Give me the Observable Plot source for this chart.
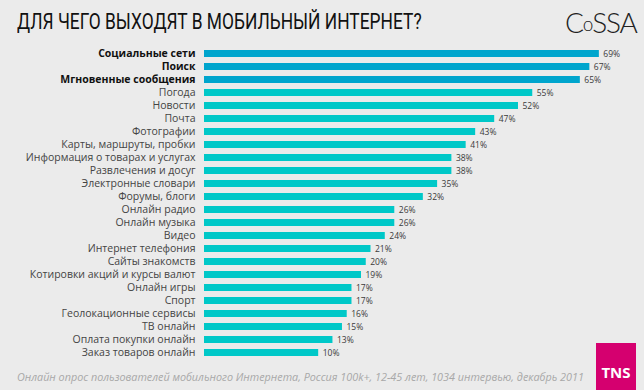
<!DOCTYPE html>
<html><head><meta charset="utf-8">
<script src="https://cdn.jsdelivr.net/npm/d3@7"></script>
<script src="https://cdn.jsdelivr.net/npm/@observablehq/plot@0.6"></script>
<style>
html,body{margin:0;padding:0;background:#ebebeb;}
#wrap{position:relative;width:644px;height:390px;overflow:hidden;background:#ebebeb;}
#chart{position:absolute;left:0;top:0;}
#title{position:absolute;left:17px;top:9px;font-family:"Roboto",sans-serif;font-size:22px;color:#111;white-space:nowrap;transform:scaleX(0.79);transform-origin:left top;}
#logo{position:absolute;left:565px;top:5px;font-family:"Lato","DejaVu Sans",sans-serif;font-weight:300;font-size:28px;color:#222;white-space:nowrap;letter-spacing:-1.2px;}
#logo small{font-size:19px;vertical-align:2px;}
#caption{position:absolute;left:17px;top:369px;font-family:"Open Sans",sans-serif;font-style:italic;font-size:10.8px;color:#a8a8a8;white-space:nowrap;}
#tns{position:absolute;left:596px;top:343px;width:40px;height:47px;background:#d5006f;color:#fff;font-family:"Open Sans",sans-serif;font-weight:700;font-size:15px;text-align:center;line-height:20px;}
#tns span{position:absolute;left:0;right:0;top:19px;}
</style></head>
<body>
<div id="wrap">
<div id="chart"></div>
<div id="title">ДЛЯ ЧЕГО ВЫХОДЯТ В МОБИЛЬНЫЙ ИНТЕРНЕТ?</div>
<div id="logo">C<small>o</small>SSA</div>
<div id="caption">Онлайн опрос пользователей мобильного Интернета, Россия 100k+, 12-45 лет, 1034 интервью, декабрь 2011</div>
<div id="tns"><span>TNS</span></div>
</div>
<script>
const categories = [
  "Социальные сети","Поиск","Мгновенные сообщения","Погода","Новости","Почта",
  "Фотографии","Карты, маршруты, пробки","Информация о товарах и услугах",
  "Развлечения и досуг","Электронные словари","Форумы, блоги","Онлайн радио",
  "Онлайн музыка","Видео","Интернет телефония","Сайты знакомств",
  "Котировки акций и курсы валют","Онлайн игры","Спорт","Геолокационные сервисы",
  "ТВ онлайн","Оплата покупки онлайн","Заказ товаров онлайн"
];
const values = [69,67,65,55,52,47,43,41,38,38,35,32,26,26,24,21,20,19,17,17,16,15,13,10];
const highlighted = ["Социальные сети","Поиск","Мгновенные сообщения"];
const baseline = -14;

const data = categories.map((c,i)=>({name:c, value:values[i], top: highlighted.includes(c)}));

const chart = Plot.plot({
  width: 644,
  height: 390,
  marginLeft: 204,
  marginRight: 38,
  marginTop: 44.4,
  marginBottom: 27.6,
  style: {background: "transparent", fontFamily: "Open Sans, sans-serif"},
  x: {domain: [baseline, 70.5], axis: null},
  y: {domain: categories, axis: null, paddingInner: 0.43, paddingOuter: 0.215},
  marks: [
    Plot.barX(data, {y: "name", x1: () => baseline, x2: "value",
      fill: d => d.top ? "#00a5cd" : "#00c8c8"}),
    Plot.text(data.filter(d => d.top), {y: "name", frameAnchor: "left", dx: -9, textAnchor: "end",
      text: "name", fontWeight: "bold", fill: "#111", fontSize: 10.5}),
    Plot.text(data.filter(d => !d.top), {y: "name", frameAnchor: "left", dx: -9, textAnchor: "end",
      text: "name", fill: "#444", fontSize: 10.5}),
    Plot.text(data, {x: "value", y: "name", dx: 4, textAnchor: "start",
      text: d => d.value + "%", fill: "#3a3a3a", fontSize: 8.5})
  ]
});
document.getElementById("chart").appendChild(chart);
</script>
</body></html>
